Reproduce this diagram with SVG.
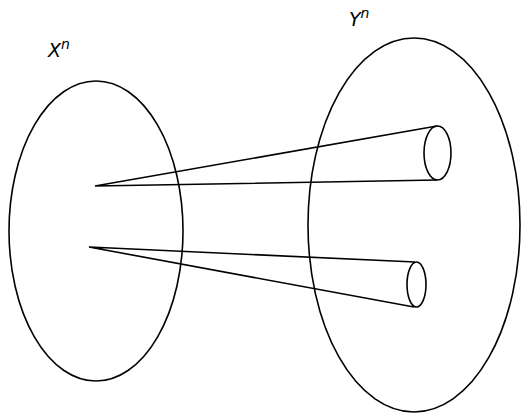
<svg xmlns="http://www.w3.org/2000/svg" width="521" height="413" viewBox="0 0 521 413">
<style>
.s{fill:none;stroke:#000;stroke-width:1.6}
.t{font-family:"DejaVu Sans",sans-serif;font-style:italic;font-size:19px;fill:#000}
.sup{font-size:14px}
</style>
<rect width="521" height="413" fill="#fff"/>
<g id="Xn">
<ellipse class="s" cx="96" cy="231" rx="87" ry="150"/>
<text class="t" x="48" y="57">X<tspan class="sup" dy="-8">n</tspan></text>
</g>
<g id="Yn">
<ellipse class="s" cx="414" cy="225" rx="106" ry="187"/>
<text class="t" x="349" y="26">Y<tspan class="sup" dy="-8">n</tspan></text>
</g>
<g id="cone1">
<ellipse class="s" cx="437.5" cy="153" rx="13.5" ry="27"/>
</g>
<g id="cone2">
<ellipse class="s" cx="416.5" cy="284.5" rx="9.5" ry="22.5"/>
</g>
<g id="connectors">
<path class="s" d="M95 186 L437 126 M95 186 L437 180"/>
<path class="s" d="M89 247 L415 262 M89 247 L414 307"/>
</g>
</svg>
